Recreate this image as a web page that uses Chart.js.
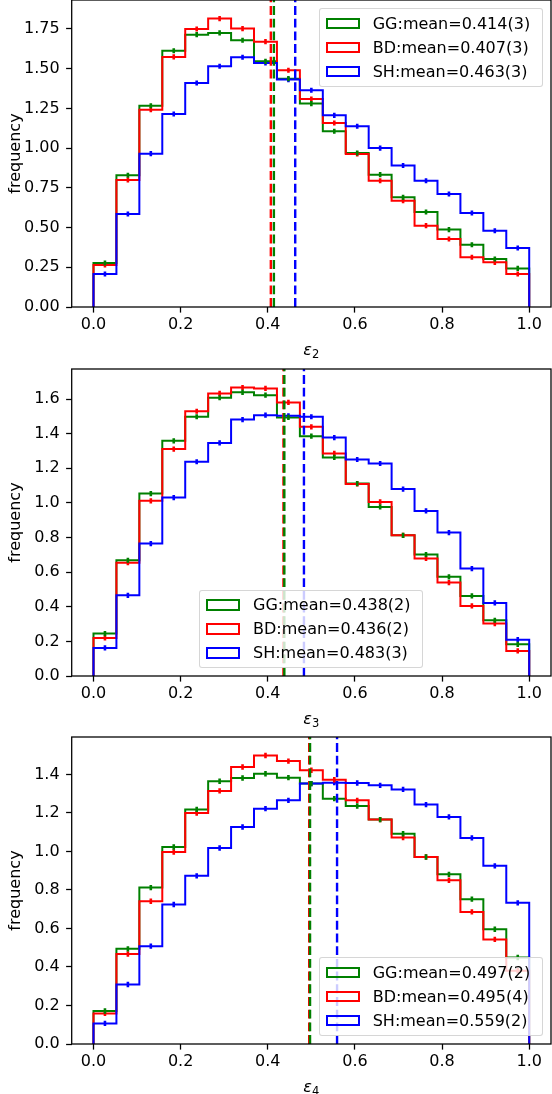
<!DOCTYPE html>
<html>
<head>
<meta charset="utf-8">
<script src="https://cdn.jsdelivr.net/npm/chart.js@4.4.0/dist/chart.umd.min.js"></script>
<style>
  body { margin: 0; background: #fff; }
  #fig { position: relative; width: 552px; height: 1094px; overflow: hidden; font-family: 'DejaVu Sans', sans-serif; }
  #fig canvas { position: absolute; left: 0; }
  .legend { position: absolute; box-sizing: border-box; width: 224px; height: 78.5px; padding-top: 2.4px;
            background: rgba(255,255,255,0.8); border: 1px solid rgba(204,204,204,0.8); border-radius: 3px; }
  .legend .row { height: 24px; display: flex; align-items: center; font-size: 16px; color: #000; white-space: nowrap; }
  .legend .patch { width: 34px; height: 11.5px; box-sizing: border-box; border: 2px solid; margin-left: 5.7px; margin-right: 13px; flex: none; }
  .xlabel { position: absolute; text-align: center; font-size: 16px; color: #000; line-height: 19px; }
  .xlabel sub { font-size: 11.5px; vertical-align: -3px; line-height: 0; }
</style>
</head>
<body>
<div id="fig"></div>
<script>
const FONT = "'DejaVu Sans', sans-serif";
const seriesNames = ['GG', 'BD', 'SH'];
const seriesColors = ['green', 'red', 'blue'];
const nBins = 19;
const xTicks = [0, 0.2, 0.4, 0.6, 0.8, 1.0];

// eps_2 panel
const gg_e2 = [0.277, 0.829, 1.267, 1.613, 1.714, 1.725, 1.679, 1.546, 1.437, 1.280, 1.106, 0.969, 0.833, 0.690, 0.598, 0.487, 0.392, 0.302, 0.243];
const bd_e2 = [0.265, 0.800, 1.242, 1.574, 1.750, 1.815, 1.752, 1.670, 1.490, 1.309, 1.158, 0.963, 0.795, 0.669, 0.512, 0.428, 0.313, 0.281, 0.208];
const sh_e2 = [0.208, 0.585, 0.965, 1.215, 1.410, 1.515, 1.572, 1.536, 1.431, 1.364, 1.206, 1.137, 1.000, 0.890, 0.795, 0.711, 0.592, 0.480, 0.371];
const mean_e2 = [0.414, 0.407, 0.463];
const meanText_e2 = ['0.414(3)', '0.407(3)', '0.463(3)'];
const err_e2 = [0.016, 0.016, 0.016];
const yTicks_e2 = [0, 0.25, 0.5, 0.75, 1.0, 1.25, 1.5, 1.75];

// eps_3 panel
const gg_e3 = [0.245, 0.669, 1.054, 1.359, 1.498, 1.608, 1.639, 1.623, 1.494, 1.386, 1.263, 1.112, 0.977, 0.813, 0.702, 0.573, 0.463, 0.322, 0.183];
const bd_e3 = [0.220, 0.655, 1.012, 1.311, 1.530, 1.633, 1.667, 1.662, 1.581, 1.440, 1.286, 1.110, 1.006, 0.813, 0.679, 0.540, 0.405, 0.303, 0.145];
const sh_e3 = [0.162, 0.466, 0.765, 1.031, 1.238, 1.347, 1.482, 1.507, 1.504, 1.498, 1.378, 1.251, 1.228, 1.080, 0.954, 0.829, 0.621, 0.422, 0.210];
const mean_e3 = [0.438, 0.436, 0.483];
const meanText_e3 = ['0.438(2)', '0.436(2)', '0.483(3)'];
const err_e3 = [0.015, 0.015, 0.015];
const yTicks_e3 = [0, 0.2, 0.4, 0.6, 0.8, 1.0, 1.2, 1.4, 1.6];

// eps_4 panel
const gg_e4 = [0.171, 0.494, 0.812, 1.023, 1.218, 1.364, 1.381, 1.403, 1.383, 1.352, 1.274, 1.236, 1.165, 1.092, 0.971, 0.881, 0.752, 0.596, 0.449];
const bd_e4 = [0.159, 0.467, 0.741, 0.997, 1.199, 1.314, 1.438, 1.498, 1.469, 1.421, 1.372, 1.265, 1.165, 1.072, 0.971, 0.850, 0.686, 0.543, 0.380];
const sh_e4 = [0.107, 0.309, 0.508, 0.724, 0.873, 1.018, 1.127, 1.222, 1.265, 1.352, 1.357, 1.355, 1.343, 1.322, 1.243, 1.179, 1.070, 0.925, 0.733];
const mean_e4 = [0.497, 0.495, 0.559];
const meanText_e4 = ['0.497(2)', '0.495(4)', '0.559(2)'];
const err_e4 = [0.014, 0.014, 0.014];
const yTicks_e4 = [0, 0.2, 0.4, 0.6, 0.8, 1.0, 1.2, 1.4];

const panels = [
    { sub: '2', top: 0.3, yMax: 1.932, dec: 2, legend: 'upper right', series: [gg_e2, bd_e2, sh_e2], means: mean_e2, meanText: meanText_e2, errs: err_e2, yTicks: yTicks_e2 },
    { sub: '3', top: 369, yMax: 1.774, dec: 1, legend: 'lower center', series: [gg_e3, bd_e3, sh_e3], means: mean_e3, meanText: meanText_e3, errs: err_e3, yTicks: yTicks_e3 },
    { sub: '4', top: 736.7, yMax: 1.594, dec: 1, legend: 'lower right', series: [gg_e4, bd_e4, sh_e4], means: mean_e4, meanText: meanText_e4, errs: err_e4, yTicks: yTicks_e4 },
];

const binEdges = Array.from({ length: nBins + 1 }, (_, k) => k / nBins);

// step outline like matplotlib histtype='step'
function stepPoints(vals) {
    const pts = [{ x: binEdges[0], y: 0 }];
    vals.forEach((v, i) => pts.push({ x: binEdges[i], y: v }));
    pts.push({ x: binEdges[nBins], y: vals[nBins - 1] });
    pts.push({ x: binEdges[nBins], y: 0 });
    return pts;
}

function errPoints(vals, e) {
    const pts = [];
    vals.forEach((v, i) => {
        const c = (binEdges[i] + binEdges[i + 1]) / 2;
        pts.push({ x: c, y: v - e }, { x: c, y: v + e }, { x: c, y: null });
    });
    return pts;
}

const framePlugin = {
    id: 'frame',
    afterDatasetsDraw(chart) {
        const { ctx, chartArea: a } = chart;
        ctx.save();
        ctx.strokeStyle = '#000';
        ctx.lineWidth = 1.28;
        ctx.strokeRect(a.left, a.top, a.right - a.left, a.bottom - a.top);
        ctx.restore();
    },
};

const fig = document.getElementById('fig');
const PAD_TOP = 10, X_AXIS_H = 60, PLOT_H = 307, Y_AXIS_W = 71.7;

panels.forEach((p) => {
    const canvas = document.createElement('canvas');
    canvas.width = 552;
    canvas.height = PAD_TOP + PLOT_H + X_AXIS_H;
    canvas.style.top = (p.top - PAD_TOP) + 'px';
    fig.appendChild(canvas);

    const datasets = [];
    p.means.forEach((m, i) => {
        datasets.push({
            data: [{ x: m, y: 0 }, { x: m, y: p.yMax }],
            borderColor: seriesColors[i], borderWidth: 2.4, borderDash: [8.9, 3.8],
            pointRadius: 0, order: 0,
        });
    });
    p.series.forEach((vals, i) => {
        datasets.push({
            data: errPoints(vals, p.errs[i]),
            borderColor: seriesColors[i], borderWidth: 2.6, pointRadius: 0,
            spanGaps: false, order: 1,
        });
        datasets.push({
            data: stepPoints(vals),
            borderColor: seriesColors[i], borderWidth: 2, pointRadius: 0,
            stepped: true, order: 4 - i,
        });
    });

    const tickFont = { family: FONT, size: 16 };
    const chart = new Chart(canvas.getContext('2d'), {
        type: 'line',
        data: { datasets },
        options: {
            responsive: false,
            animation: false,
            layout: { padding: { top: PAD_TOP, right: 1, left: 0, bottom: 0 } },
            plugins: { legend: { display: false }, tooltip: { enabled: false } },
            scales: {
                x: {
                    type: 'linear', min: -0.05, max: 1.05,
                    afterBuildTicks: (s) => { s.ticks = xTicks.map((v) => ({ value: v })); },
                    afterFit: (s) => { s.height = X_AXIS_H; s.paddingLeft = 0; s.paddingRight = 0; },
                    ticks: { color: '#000', font: tickFont, padding: 3, maxRotation: 0, autoSkip: false,
                             callback: (v) => Number(v).toFixed(1) },
                    grid: { drawOnChartArea: false, drawTicks: true, tickLength: 5.6, tickColor: '#000', tickWidth: 1.28 },
                    border: { display: false },
                },
                y: {
                    type: 'linear', min: 0, max: p.yMax,
                    afterBuildTicks: (s) => { s.ticks = p.yTicks.map((v) => ({ value: v })); },
                    afterFit: (s) => { s.width = Y_AXIS_W; s.paddingTop = 0; s.paddingBottom = 0; },
                    ticks: { color: '#000', font: tickFont, padding: 6.5, autoSkip: false,
                             callback: (v) => Number(v).toFixed(p.dec) },
                    grid: { drawOnChartArea: false, drawTicks: true, tickLength: 5.6, tickColor: '#000', tickWidth: 1.28 },
                    border: { display: false },
                    title: { display: true, text: 'frequency', color: '#000', font: tickFont, padding: { top: 6, bottom: 0 } },
                },
            },
        },
        plugins: [framePlugin],
    });

    const a = chart.chartArea;
    const canvasTop = p.top - PAD_TOP;

    // legend box
    const lg = document.createElement('div');
    lg.className = 'legend';
    const lw = 224, lh = 78.5, gap = 8;
    let lx, ly;
    if (p.legend === 'upper right') { lx = a.right - gap - lw; ly = canvasTop + a.top + gap; }
    else if (p.legend === 'lower right') { lx = a.right - gap - lw; ly = canvasTop + a.bottom - gap - lh; }
    else { lx = (a.left + a.right) / 2 - lw / 2; ly = canvasTop + a.bottom - gap - lh; }
    lg.style.left = lx + 'px';
    lg.style.top = ly + 'px';
    seriesNames.forEach((name, i) => {
        const row = document.createElement('div');
        row.className = 'row';
        const patch = document.createElement('span');
        patch.className = 'patch';
        patch.style.borderColor = seriesColors[i];
        const txt = document.createElement('span');
        txt.textContent = name + ':mean=' + p.meanText[i];
        row.appendChild(patch);
        row.appendChild(txt);
        lg.appendChild(row);
    });
    fig.appendChild(lg);

    // x axis label
    const xl = document.createElement('div');
    xl.className = 'xlabel';
    xl.style.left = a.left + 'px';
    xl.style.width = (a.right - a.left) + 'px';
    xl.style.top = (canvasTop + a.bottom + 33) + 'px';
    xl.innerHTML = '<i>ε</i><sub>' + p.sub + '</sub>';
    fig.appendChild(xl);
});
</script>
</body>
</html>
